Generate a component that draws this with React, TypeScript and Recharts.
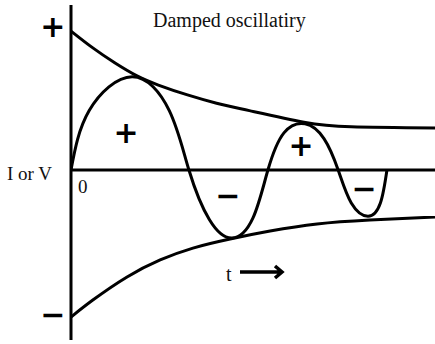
import { LineChart, Line, XAxis, YAxis, ReferenceLine, ReferenceDot } from 'recharts';

// time axis runs 0..10, amplitude is relative (0 = the I/V axis)
const upperEnvelope = [
  { t: 0, v: 0.842 },
  { t: 0.6, v: 0.74 },
  { t: 1.2, v: 0.65 },
  { t: 1.8, v: 0.572 },
  { t: 2.4, v: 0.515 },
  { t: 3.2, v: 0.455 },
  { t: 4.0, v: 0.405 },
  { t: 4.9, v: 0.36 },
  { t: 6.4, v: 0.29 },
  { t: 7.7, v: 0.262 },
  { t: 10, v: 0.255 },
];

const lowerEnvelope = [
  { t: 0, v: -0.891 },
  { t: 0.6, v: -0.788 },
  { t: 1.54, v: -0.648 },
  { t: 2.45, v: -0.545 },
  { t: 3.35, v: -0.473 },
  { t: 4.37, v: -0.418 },
  { t: 5.47, v: -0.37 },
  { t: 6.76, v: -0.327 },
  { t: 8.21, v: -0.303 },
  { t: 10, v: -0.285 },
];

// zero crossings and extremes
const wave = [
  { t: 0, v: 0 },
  { t: 0.5, v: 0.36 },
  { t: 1.68, v: 0.565 },
  { t: 2.7, v: 0.36 },
  { t: 3.24, v: 0 },
  { t: 3.8, v: -0.3 },
  { t: 4.42, v: -0.412 },
  { t: 5.0, v: -0.29 },
  { t: 5.41, v: 0 },
  { t: 5.85, v: 0.225 },
  { t: 6.43, v: 0.28 },
  { t: 6.95, v: 0.19 },
  { t: 7.34, v: 0 },
  { t: 7.7, v: -0.2 },
  { t: 8.16, v: -0.28 },
  { t: 8.5, v: -0.2 },
  { t: 8.68, v: 0 },
];

// polarity marks: two on the axis side, four inside the lobes
const signs = [
  { t: -0.5, v: 0.873, s: '+' },
  { t: -0.5, v: -0.873, s: '\u2212' },
  { t: 1.51, v: 0.23, s: '+' },
  { t: 4.31, v: -0.152, s: '\u2212' },
  { t: 6.32, v: 0.152, s: '+' },
  { t: 8.05, v: -0.109, s: '\u2212' },
];

const W = 435;
const H = 344;
const ink = '#000';
const serif = '"Liberation Serif", "Times New Roman", serif';

export default function App() {
  return (
    <div style={{ position: 'relative', width: W, height: H, background: '#fff' }}>
      <style>{'body{margin:0}'}</style>
      <LineChart width={W} height={H} margin={{ top: 5, right: 0, bottom: 4, left: 71 }}>
        <XAxis type="number" dataKey="t" domain={[0, 10]} hide allowDataOverflow />
        <YAxis type="number" dataKey="v" domain={[-1.03, 1]} hide allowDataOverflow />
        <ReferenceLine x={0} stroke={ink} strokeWidth={3} />
        <ReferenceLine y={0} stroke={ink} strokeWidth={3} />
        <Line
          data={upperEnvelope}
          dataKey="v"
          type="natural"
          stroke={ink}
          strokeWidth={3}
          dot={false}
          isAnimationActive={false}
        />
        <Line
          data={lowerEnvelope}
          dataKey="v"
          type="natural"
          stroke={ink}
          strokeWidth={3}
          dot={false}
          isAnimationActive={false}
        />
        <Line
          data={wave}
          dataKey="v"
          type="natural"
          stroke={ink}
          strokeWidth={3}
          dot={false}
          isAnimationActive={false}
        />
        {signs.map((m, i) => (
          <ReferenceDot
            key={i}
            x={m.t}
            y={m.v}
            r={0}
            fill="none"
            stroke="none"
            ifOverflow="visible"
            label={{
              value: m.s,
              position: 'center',
              fill: ink,
              fontSize: 30,
              fontWeight: 700,
              fontFamily: '"DejaVu Sans", sans-serif',
            }}
          />
        ))}
      </LineChart>
      <svg width={W} height={H} style={{ position: 'absolute', left: 0, top: 0, pointerEvents: 'none' }}>
        <g fontFamily={serif} fontSize={19} fill="#111">
          <text x={153} y={27} fontSize={20}>Damped oscillatiry</text>
          <text x={7} y={180}>I or V</text>
          <text x={78} y={193}>0</text>
          <text x={226} y={281} fontSize={20}>t</text>
        </g>
        <path d="M240,272 H281 M275,266 L282,272 L275,278" stroke={ink} strokeWidth={3.5} fill="none" />
      </svg>
    </div>
  );
}
